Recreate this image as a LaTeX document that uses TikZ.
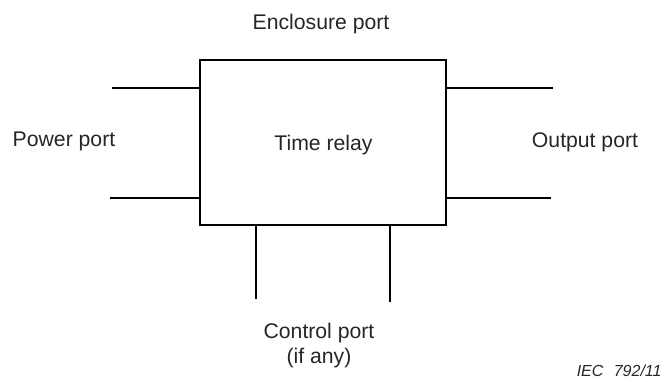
\documentclass[tikz,border=0pt]{standalone}
\usepackage{fontspec}
\setmainfont{Liberation Sans}
\begin{document}
\begin{tikzpicture}[x=0.5pt,y=-0.5pt,
  wire/.style={line width=0.8pt,black},
  lbl/.style={inner sep=0pt,text=black!85,font=\fontsize{10.6}{12}\selectfont},
  tag/.style={inner sep=0pt,text=black!85,font=\fontsize{8}{9}\selectfont\itshape}]
\useasboundingbox (0,0) rectangle (665,381);
% relay body
\node[wire,draw,minimum width=123pt,minimum height=82.5pt,inner sep=0pt] (relay) at (323,142.5) {};
\node[lbl,anchor=base] (relaytxt) at (323.5,150) {Time relay};
% port terminals
\coordinate (pl1) at (112,88);  \coordinate (pl2) at (110,198);
\coordinate (pr1) at (553,88);  \coordinate (pr2) at (551,198);
\coordinate (pb1) at (256,299); \coordinate (pb2) at (390,302);
\draw[wire] (pl1) -- (pl1 -| relay.west);
\draw[wire] (pl2) -- (pl2 -| relay.west);
\draw[wire] (pr1) -- (pr1 -| relay.east);
\draw[wire] (pr2) -- (pr2 -| relay.east);
\draw[wire] (pb1) -- (pb1 |- relay.south);
\draw[wire] (pb2) -- (pb2 |- relay.south);
% labels
\node[lbl,anchor=base] (encl) at (321,29) {Enclosure port};
\node[lbl,anchor=base] (power) at (64,146) {Power port};
\node[lbl,anchor=base] (output) at (585,147) {Output port};
\node[lbl,anchor=base] (ctrl) at (319,338) {Control port};
\node[lbl,anchor=base] (ctrl2) at (319,363) {(if any)};
\node[tag,anchor=base east] (iec) at (662,376) {IEC\hspace{0.65em}792/11};
\end{tikzpicture}
\end{document}
